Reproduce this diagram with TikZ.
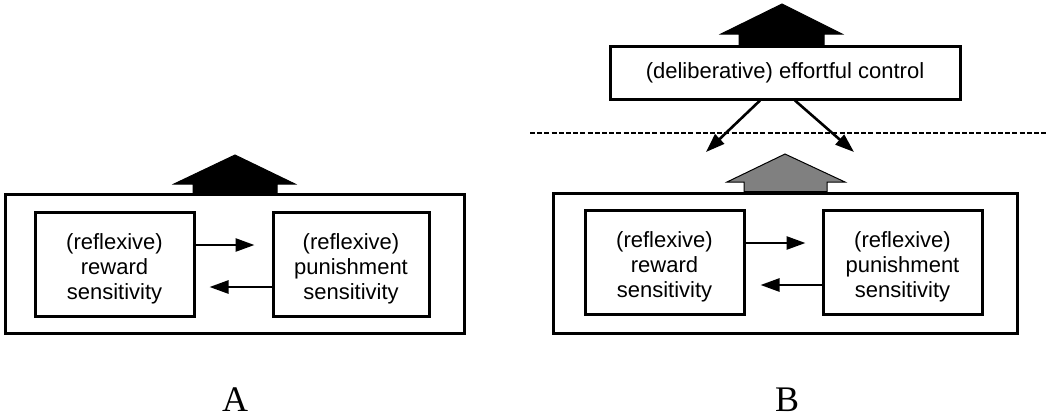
\documentclass[tikz,border=0pt]{standalone}
\usepackage{fontspec}
\setmainfont{Liberation Sans}
\newfontfamily\labelfont{Liberation Serif}
\usetikzlibrary{arrows.meta}
\begin{document}
\begin{tikzpicture}[x=1pt,y=-1pt,
  outerbox/.style={draw,line width=3pt,inner sep=0pt},
  inbox/.style={draw,line width=3pt,inner sep=0pt,minimum height=104pt},
  intext/.style={align=center,inner sep=0pt,font=\fontsize{22}{25}\selectfont},
  arr/.style={line width=2.6pt,-{Triangle[length=19pt,width=13pt]}},
  bigarrow/.style={line width=1pt,line join=miter},
  panellabel/.style={font=\labelfont\fontsize{36}{40}\selectfont,inner sep=0pt,anchor=base}]
\useasboundingbox (0,0) rectangle (1050,416);
% ---------- Panel A ----------
\node[outerbox,minimum width=459pt,minimum height=139pt] (outA) at (234.5,263.5) {};
\node[inbox,minimum width=159pt] (rewA) at (114.5,264) {};
\node[inbox,minimum width=156pt] (punA) at (351,264) {};
\node[intext] (rewAt) at ([yshift=-5pt]rewA.center) {(reflexive)\\reward\\sensitivity};
\node[intext] (punAt) at ([yshift=-5pt]punA.center) {(reflexive)\\punishment\\sensitivity};
\draw[arr] (rewA.east |- 0,245) -- ([xshift=-17pt]punA.west |- 0,245);
\draw[arr] (punA.west |- 0,287) -- ([xshift=14pt]rewA.east |- 0,287);
\draw[bigarrow,fill=black] (193,192.5) -- (193,184) -- (174,184) -- (235,155) -- (295,184) -- (277,184) -- (277,192.5) -- cycle;
\node[panellabel] (labA) at (235,411) {A};
% ---------- Panel B ----------
\node[outerbox,minimum width=464pt,minimum height=140pt] (outB) at (785,263) {};
\node[inbox,minimum width=159pt] (rewB) at (664.5,262) {};
\node[inbox,minimum width=159pt] (punB) at (902.5,262) {};
\node[intext] (rewBt) at ([yshift=-5pt]rewB.center) {(reflexive)\\reward\\sensitivity};
\node[intext] (punBt) at ([yshift=-5pt]punB.center) {(reflexive)\\punishment\\sensitivity};
\draw[arr] (rewB.east |- 0,243) -- ([xshift=-16pt]punB.west |- 0,243);
\draw[arr] (punB.west |- 0,285) -- ([xshift=15pt]rewB.east |- 0,285);
\draw[bigarrow,fill=gray] (744,191.5) -- (744,182) -- (727,182) -- (785,154) -- (845,182) -- (827,182) -- (827,191.5) -- cycle;
\node[outerbox,minimum width=350pt,minimum height=53pt,font=\fontsize{22}{25}\selectfont] (ctrl) at (785,72.5) {(deliberative) effortful control};
\draw[bigarrow,fill=black] (739,44.5) -- (739,34) -- (721,34) -- (782,4) -- (842,34) -- (824,34) -- (824,44.5) -- cycle;
\coordinate (dl) at (706,152);
\coordinate (dr) at (854,152);
\draw[arr] (ctrl.south -| 760,0) -- (dl);
\draw[arr] (ctrl.south -| 795,0) -- (dr);
\coordinate (dashL) at (530,133);
\coordinate (dashR) at (1046,133);
\draw[line width=1.8pt,dash pattern=on 5pt off 2.2pt] (dashL) -- (dashR);
\node[panellabel] (labB) at (787,411) {B};
\end{tikzpicture}
\end{document}
